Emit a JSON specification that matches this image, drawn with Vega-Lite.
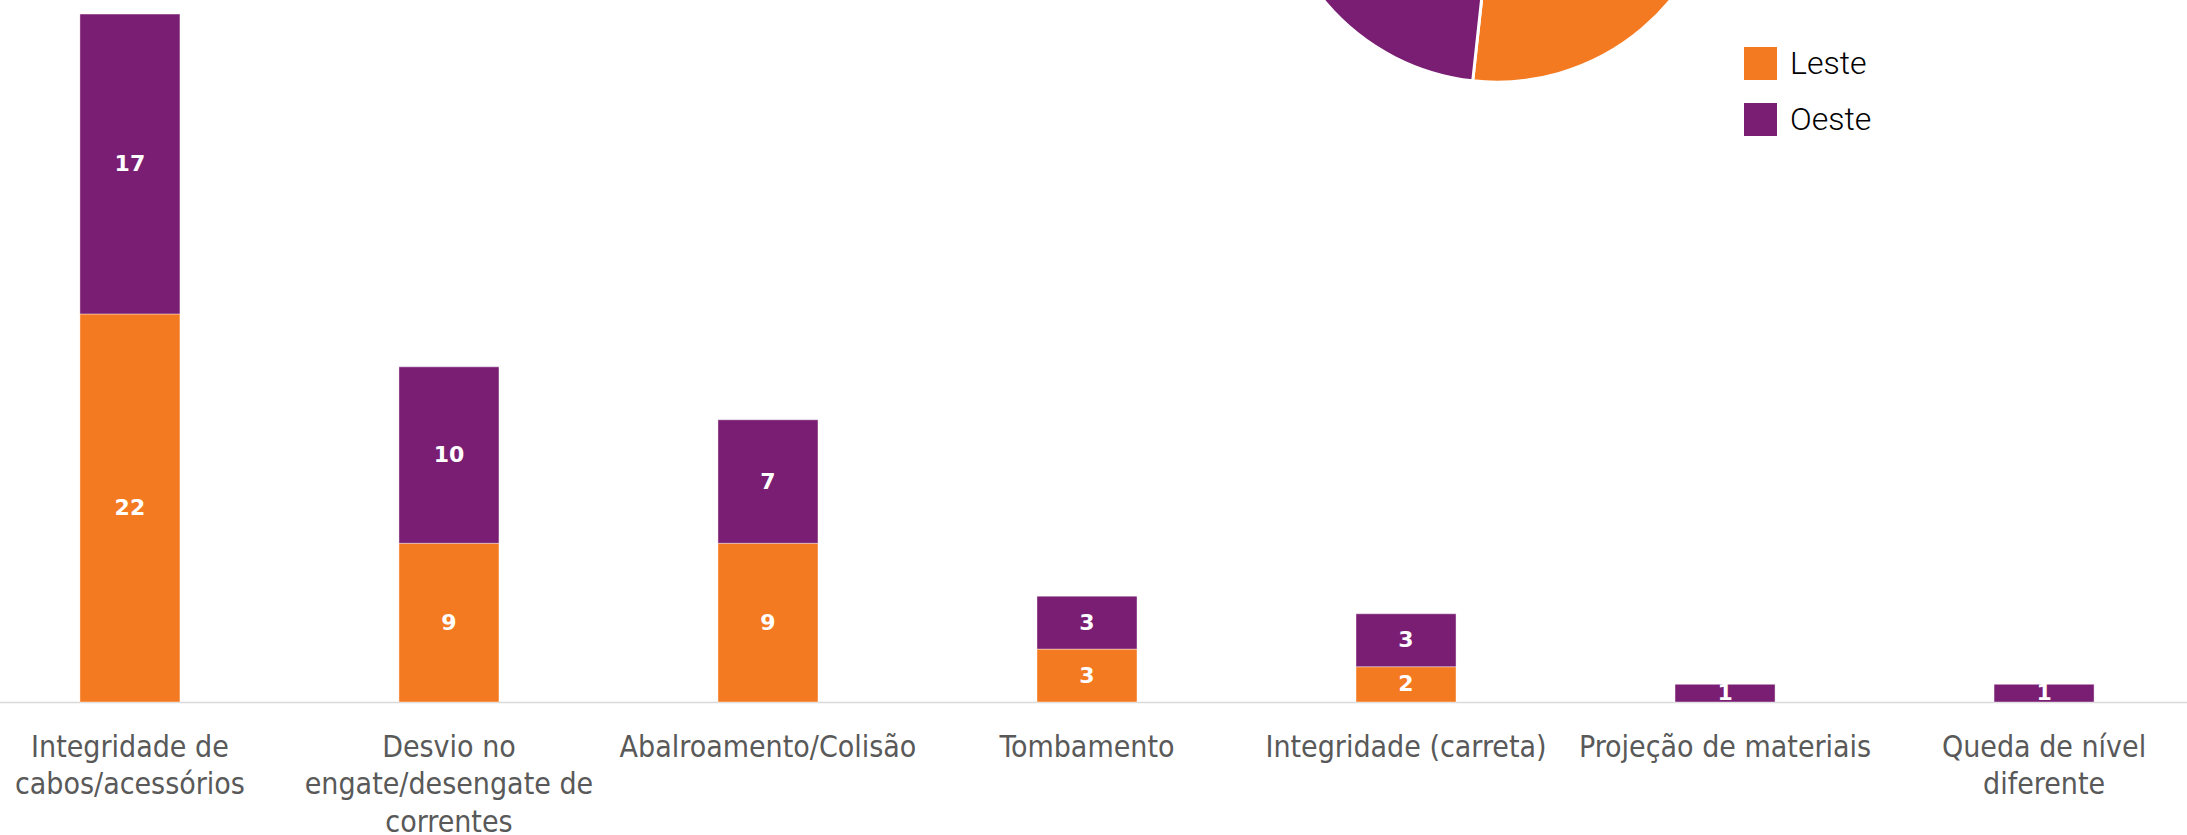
{
  "$schema": "https://vega.github.io/schema/vega-lite/v6.json",
  "width": 2187,
  "height": 702,
  "autosize": {"type": "none"},
  "padding": {"left": 0, "right": 0, "top": 0, "bottom": 133},
  "background": "white",
  "config": {"view": {"stroke": null}},
  "data": {
    "values": [
      {"cause": "Integridade de cabos/acessórios", "region": "Leste", "count": 22},
      {"cause": "Integridade de cabos/acessórios", "region": "Oeste", "count": 17},
      {"cause": "Desvio no engate/desengate de correntes", "region": "Leste", "count": 9},
      {"cause": "Desvio no engate/desengate de correntes", "region": "Oeste", "count": 10},
      {"cause": "Abalroamento/Colisão", "region": "Leste", "count": 9},
      {"cause": "Abalroamento/Colisão", "region": "Oeste", "count": 7},
      {"cause": "Tombamento", "region": "Leste", "count": 3},
      {"cause": "Tombamento", "region": "Oeste", "count": 3},
      {"cause": "Integridade (carreta)", "region": "Leste", "count": 2},
      {"cause": "Integridade (carreta)", "region": "Oeste", "count": 3},
      {"cause": "Projeção de materiais", "region": "Oeste", "count": 1},
      {"cause": "Queda de nível diferente", "region": "Oeste", "count": 1}
    ]
  },
  "layer": [
    {
      "mark": {"type": "arc", "outerRadius": 224.5, "stroke": "white", "strokeWidth": 3},
      "encoding": {
        "theta": {"aggregate": "sum", "field": "count", "type": "quantitative"},
        "order": {"field": "region", "type": "nominal"},
        "color": {
          "field": "region", "type": "nominal",
          "scale": {"domain": ["Leste", "Oeste"], "range": ["#F47A22", "#7A1E73"]},
          "legend": {
            "orient": "none", "legendX": 1744, "legendY": 47, "title": null,
            "symbolType": "square", "symbolSize": 1089, "symbolStrokeWidth": 0,
            "labelFontSize": 32, "labelFont": "Roboto", "labelFontWeight": 300,
            "labelColor": "#000000", "rowPadding": 23, "labelOffset": 13
          }
        },
        "x": {"datum": 0.6845, "type": "quantitative", "scale": {"domain": [0, 1], "nice": false}, "axis": null},
        "y": {"datum": 47.87, "type": "quantitative", "axis": null}
      }
    },
    {
      "encoding": {
        "x": {
          "field": "cause", "type": "nominal",
          "sort": ["Integridade de cabos/acessórios", "Desvio no engate/desengate de correntes", "Abalroamento/Colisão", "Tombamento", "Integridade (carreta)", "Projeção de materiais", "Queda de nível diferente"],
          "scale": {"range": [-29.5, 2203.5], "paddingInner": 0.6865, "paddingOuter": 0.343},
          "axis": {
            "title": null, "ticks": false, "tickSize": 0, "domainColor": "#d9d9d9", "domainWidth": 1.5,
            "labelAngle": 0, "labelFont": "DejaVu Sans Condensed, Liberation Sans Narrow, DejaVu Sans",
            "labelFontSize": 30, "labelColor": "#595959", "labelPadding": 30, "labelLimit": 500,
            "labelLineHeight": 37.5,
            "labelExpr": "datum.label == 'Integridade de cabos/acessórios' ? ['Integridade de', 'cabos/acessórios'] : datum.label == 'Desvio no engate/desengate de correntes' ? ['Desvio no', 'engate/desengate de', 'correntes'] : datum.label == 'Queda de nível diferente' ? ['Queda de nível', 'diferente'] : datum.label"
          }
        }
      },
      "layer": [
        {
          "mark": {"type": "bar", "stroke": "white", "strokeOpacity": 0.4, "strokeWidth": 1},
          "encoding": {
            "y": {"field": "count", "type": "quantitative", "stack": "zero", "scale": {"domain": [0, 39.8], "nice": false}, "axis": null},
            "color": {
              "field": "region", "type": "nominal",
              "scale": {"domain": ["Leste", "Oeste"], "range": ["#F47A22", "#7A1E73"]},
              "legend": {
                "orient": "none", "legendX": 1744, "legendY": 47, "title": null,
                "symbolType": "square", "symbolSize": 1089, "symbolStrokeWidth": 0,
                "labelFontSize": 32, "labelFont": "Roboto", "labelFontWeight": 300,
                "labelColor": "#000000", "rowPadding": 23, "labelOffset": 13
              }
            },
            "order": {"field": "region", "type": "nominal"}
          }
        },
        {
          "mark": {"type": "text", "color": "white", "font": "DejaVu Sans", "fontWeight": "bold", "fontSize": 22, "baseline": "middle", "align": "center"},
          "encoding": {
            "y": {"field": "count", "type": "quantitative", "stack": "zero", "bandPosition": 0.5, "axis": null},
            "detail": {"field": "region", "type": "nominal"},
            "order": {"field": "region", "type": "nominal"},
            "text": {"field": "count", "type": "quantitative"}
          }
        }
      ]
    }
  ],
  "resolve": {"scale": {"x": "independent"}}
}
